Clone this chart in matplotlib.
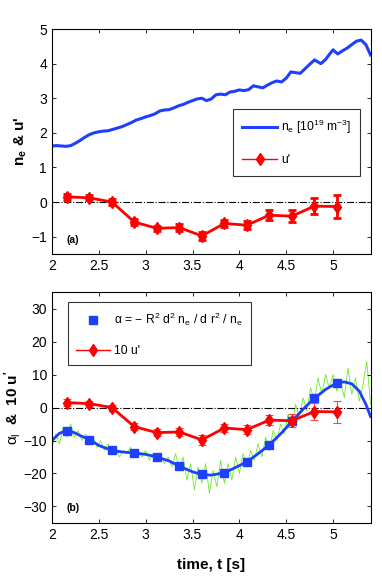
import numpy as np
import matplotlib
matplotlib.use("Agg")
import matplotlib.pyplot as plt
from matplotlib.lines import Line2D

plt.rcParams['font.family'] = ['Liberation Sans', 'DejaVu Sans']
plt.rcParams['mathtext.fontset'] = 'custom'
plt.rcParams['mathtext.rm'] = 'Liberation Sans'
plt.rcParams['mathtext.it'] = 'Liberation Sans'
plt.rcParams['mathtext.bf'] = 'Liberation Sans:bold'

# ---- data ----
t_u = [2.16, 2.40, 2.64, 2.88, 3.12, 3.36, 3.60, 3.84, 4.08, 4.32, 4.56, 4.80, 5.04]
u_prime = [0.15, 0.12, 0.0, -0.58, -0.76, -0.74, -0.98, -0.62, -0.67, -0.38, -0.41, -0.12, -0.13]
u_err = [0.08, 0.07, 0.08, 0.09, 0.08, 0.09, 0.11, 0.1, 0.11, 0.14, 0.17, 0.24, 0.32]

u10 = [1.5, 1.2, 0.0, -5.8, -7.6, -7.4, -9.8, -6.2, -6.7, -3.8, -4.0, -1.2, -1.3]
u10_err = [1.0, 0.9, 0.9, 1.0, 1.0, 1.1, 1.6, 1.2, 1.4, 1.6, 2.0, 2.5, 3.3]

alpha_sq = [-7.0, -9.8, -13.0, -13.8, -15.0, -17.8, -20.3, -19.8, -16.5, -11.3, -4.0, 2.8, 7.5]

t_ne = [2.00, 2.05, 2.10, 2.15, 2.20, 2.25, 2.30, 2.35, 2.40, 2.45, 2.50, 2.55, 2.60, 2.65,
        2.70, 2.75, 2.80, 2.85, 2.90, 2.95, 3.00, 3.05, 3.10, 3.15, 3.20, 3.25, 3.30, 3.35,
        3.40, 3.45, 3.50, 3.55, 3.60, 3.65, 3.70, 3.75, 3.80, 3.85, 3.90, 3.95, 4.00, 4.05,
        4.10, 4.15, 4.20, 4.25, 4.30, 4.35, 4.40, 4.45, 4.50, 4.55, 4.60, 4.65, 4.70, 4.75,
        4.80, 4.81, 4.82, 4.87, 4.92, 4.97, 5.00, 5.05, 5.10, 5.15, 5.20, 5.25, 5.30, 5.35, 5.40]
ne = [1.62, 1.63, 1.62, 1.61, 1.63, 1.70, 1.78, 1.87, 1.95, 2.00, 2.03, 2.05, 2.06, 2.10,
      2.14, 2.18, 2.24, 2.30, 2.37, 2.41, 2.46, 2.50, 2.55, 2.63, 2.66, 2.67, 2.72, 2.78,
      2.82, 2.88, 2.93, 2.98, 3.00, 2.93, 2.98, 3.10, 3.12, 3.10, 3.18, 3.20, 3.24, 3.22,
      3.25, 3.36, 3.33, 3.30, 3.38, 3.45, 3.50, 3.47, 3.58, 3.76, 3.74, 3.72, 3.85, 3.98,
      4.10, np.nan, 4.08, 4.00, 4.12, 4.30, 4.40, 4.28, 4.37, 4.45, 4.55, 4.65, 4.68, 4.55, 4.25]

t_fit = [2.00, 2.08, 2.16, 2.24, 2.30, 2.40, 2.50, 2.64, 2.76, 2.88, 3.00, 3.12, 3.25, 3.36,
         3.50, 3.60, 3.70, 3.84, 3.95, 4.08, 4.20, 4.32, 4.45, 4.56, 4.68, 4.80, 4.92, 5.04,
         5.12, 5.20, 5.28, 5.35, 5.40]
alpha_fit = [-10.0, -7.8, -7.0, -7.6, -8.5, -9.7, -11.5, -13.0, -13.5, -13.8, -14.2, -15.0,
             -16.2, -17.8, -19.5, -20.3, -20.5, -19.8, -18.3, -16.5, -14.0, -11.3, -7.7, -4.2,
             -0.5, 2.8, 5.5, 7.5, 7.8, 7.2, 5.0, 1.0, -2.7]

t_raw = [2.00, 2.04, 2.08, 2.12, 2.16, 2.20, 2.24, 2.28, 2.32, 2.36, 2.40, 2.44, 2.48, 2.52,
         2.56, 2.60, 2.64, 2.68, 2.72, 2.76, 2.80, 2.84, 2.88, 2.92, 2.96, 3.00, 3.04, 3.08,
         3.12, 3.16, 3.20, 3.24, 3.28, 3.32, 3.36, 3.40, 3.44, 3.48, 3.52, 3.56, 3.60, 3.64,
         3.68, 3.72, 3.76, 3.80, 3.84, 3.88, 3.92, 3.96, 4.00, 4.04, 4.08, 4.12, 4.16, 4.20,
         4.24, 4.28, 4.32, 4.36, 4.40, 4.44, 4.48, 4.52, 4.56, 4.60, 4.64, 4.68, 4.72, 4.76,
         4.80, 4.84, 4.88, 4.92, 4.96, 5.00, 5.04, 5.08, 5.12, 5.16, 5.20, 5.24, 5.28, 5.32,
         5.36, 5.40]
alpha_raw = [-12, -8, -11, -6, -9, -5, -9, -7, -10, -8, -11, -9, -12, -10,
             -13, -11, -14, -12, -15, -13, -14, -12, -15, -13, -15, -13, -16, -14,
             -16, -14, -17, -15, -18, -14, -19, -15, -22, -17, -25, -18, -23, -17,
             -26, -19, -24, -16, -23, -17, -22, -15, -20, -14, -18, -13, -16, -11,
             -15, -9, -13, -7, -10, -5, -8, -2, -6, 1, -3, 3, -1, 6,
             2, 9, 4, 10, 6, 10, 5, 8, 3, 12, 4, 9, 2, 7,
             14, 1]

xticks = [2, 2.5, 3, 3.5, 4, 4.5, 5]
xticklabels = ['2', '2.5', '3', '3.5', '4', '4.5', '5']

fig = plt.figure(figsize=(3.82, 5.81), dpi=100)
ax1 = fig.add_axes([0.136, 0.563, 0.834, 0.387])
ax2 = fig.add_axes([0.136, 0.100, 0.834, 0.397])

red = '#ff0000'
blue = '#1f3fff'

for ax in (ax1, ax2):
    ax.tick_params(direction='in', top=True, right=True, labelsize=10, length=3, width=0.6)
    ax.set_xlim(2, 5.4)
    ax.set_xticks(xticks)
    ax.set_xticklabels(xticklabels)
    ax.axhline(0, color='black', lw=0.8, ls='-.')
    for s in ax.spines.values():
        s.set_linewidth(0.8)

ne_label = r'n$_\mathregular{e}$ [10$^\mathregular{19}$ m$^\mathregular{-3}$]'
alpha_label = (r'$\alpha$ = $-$ R$^\mathregular{2}$ d$^\mathregular{2}$ n$_\mathregular{e}$'
               r' / d r$^\mathregular{2}$ / n$_\mathregular{e}$')

# top panel
ax1.plot(t_ne, ne, color=blue, lw=2.2)
ax1.errorbar(t_u, u_prime, yerr=u_err, color=red, lw=2, marker='d', ms=6, capsize=3,
             elinewidth=2, capthick=2)
ax1.set_ylim(-1.5, 5)
ax1.set_yticks([-1, 0, 1, 2, 3, 4, 5])
ax1.set_yticklabels(['\u22121', '0', '1', '2', '3', '4', '5'])
ax1.set_ylabel(r"$\mathbf{n_e}$ & u'", fontsize=11, fontweight='bold', labelpad=2)
ax1.text(0.045, 0.05, '(a)', transform=ax1.transAxes, fontsize=7.5, fontweight='bold')
h1 = [Line2D([], [], color=blue, lw=2.2),
      Line2D([], [], color=red, lw=1, marker='d', ms=6)]
leg1 = ax1.legend(h1, [ne_label, "u'"], loc='upper left', bbox_to_anchor=(0.569, 0.644),
                  borderaxespad=0, fontsize=8.7, frameon=True, fancybox=False,
                  edgecolor='black', labelspacing=1.5, handlelength=2.9,
                  borderpad=0.75, handletextpad=0.3)
leg1.get_frame().set_linewidth(0.8)

# bottom panel
ax2.plot(t_raw, alpha_raw, color='#66ee22', lw=0.6, zorder=1)
ax2.plot(t_fit, alpha_fit, color=blue, lw=2, zorder=2)
ax2.plot(t_u, alpha_sq, ls='none', marker='s', ms=6, color=blue, zorder=3)
ax2.errorbar(t_u, u10, yerr=u10_err, color=red, lw=2, marker='d', ms=6, capsize=3,
             elinewidth=0.8, capthick=0.8, ecolor='#ff4444', zorder=4)
ax2.set_ylim(-35, 35)
ax2.set_yticks([-30, -20, -10, 0, 10, 20, 30])
ax2.set_yticklabels(['\u221230', '\u221220', '\u221210', '0', '10', '20', '30'])
ax2.set_ylabel(r"$\alpha_\mathregular{l}$  $\mathbf{&\ \ 10\ u'}$", fontsize=11, labelpad=0)
ax2.text(0.045, 0.05, '(b)', transform=ax2.transAxes, fontsize=7.5, fontweight='bold')
ax2.set_xlabel('time, t [s]', fontsize=11, fontweight='bold', labelpad=12)
h2 = [Line2D([], [], ls='none', marker='s', ms=6, color=blue),
      Line2D([], [], color=red, lw=1, marker='d', ms=6)]
leg2 = ax2.legend(h2, [alpha_label, "10 u'"], loc='upper left', bbox_to_anchor=(0.05, 0.957),
                  borderaxespad=0, fontsize=8.7, frameon=True, fancybox=False,
                  edgecolor='black', labelspacing=1.4, handlelength=2.8,
                  borderpad=0.7, handletextpad=0.35)
leg2.get_frame().set_linewidth(0.8)

fig.savefig('out.png', dpi=100)
